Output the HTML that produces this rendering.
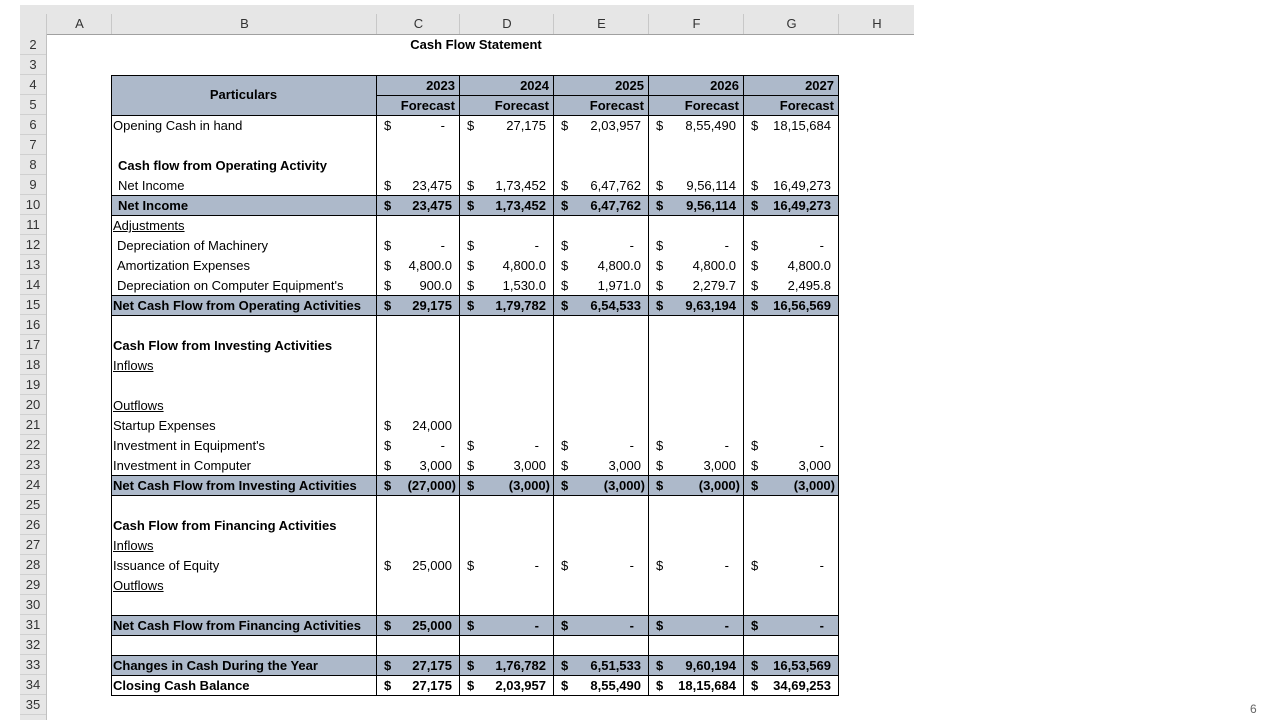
<!DOCTYPE html>
<html><head><meta charset="utf-8">
<style>
body{margin:0;width:1280px;height:720px;background:#fff;position:relative;overflow:hidden;font-family:"Liberation Sans",sans-serif;font-size:13px;color:#000}
.a{position:absolute;white-space:nowrap}
</style></head><body>
<div class="a" style="left:20px;top:5px;width:894px;height:29px;background:#e6e6e6;border-bottom:1px solid #a0a0a0"></div>
<div class="a" style="left:20px;top:34px;width:26px;height:686px;background:#e6e6e6;border-right:1px solid #c0c0c0"></div>
<div class="a" style="left:1250px;top:702px;color:#666;font-size:12px">6</div>
<div id="sheet"></div>
<script>
const colLetters=["A","B","C","D","E","F","G","H"];
const colEdges=[46,111,376,459,553,648,743,838,914];
const years=["2023","2024","2025","2026","2027"];
const rows=[
[6,"Opening Cash in hand",0,false,false,false,["-","27,175","2,03,957","8,55,490","18,15,684"]],
[8,"Cash flow from Operating Activity",5,true,false,false,null],
[9,"Net Income",5,false,false,false,["23,475","1,73,452","6,47,762","9,56,114","16,49,273"]],
[10,"Net Income",5,true,false,true,["23,475","1,73,452","6,47,762","9,56,114","16,49,273"]],
[11,"Adjustments",0,false,true,false,null],
[12,"Depreciation of Machinery",4,false,false,false,["-","-","-","-","-"]],
[13,"Amortization Expenses",4,false,false,false,["4,800.0","4,800.0","4,800.0","4,800.0","4,800.0"]],
[14,"Depreciation on Computer Equipment's",4,false,false,false,["900.0","1,530.0","1,971.0","2,279.7","2,495.8"]],
[15,"Net Cash Flow from Operating Activities",0,true,false,true,["29,175","1,79,782","6,54,533","9,63,194","16,56,569"]],
[17,"Cash Flow from Investing Activities",0,true,false,false,null],
[18,"Inflows",0,false,true,false,null],
[20,"Outflows",0,false,true,false,null],
[21,"Startup Expenses",0,false,false,false,["24,000",null,null,null,null]],
[22,"Investment in Equipment's",0,false,false,false,["-","-","-","-","-"]],
[23,"Investment in Computer",0,false,false,false,["3,000","3,000","3,000","3,000","3,000"]],
[24,"Net Cash Flow from Investing Activities",0,true,false,true,["(27,000)","(3,000)","(3,000)","(3,000)","(3,000)"]],
[26,"Cash Flow from Financing Activities",0,true,false,false,null],
[27,"Inflows",0,false,true,false,null],
[28,"Issuance of Equity",0,false,false,false,["25,000","-","-","-","-"]],
[29,"Outflows",0,false,true,false,null],
[31,"Net Cash Flow from Financing Activities",0,true,false,true,["25,000","-","-","-","-"]],
[33,"Changes in Cash During the Year",0,true,false,true,["27,175","1,76,782","6,51,533","9,60,194","16,53,569"]],
[34,"Closing Cash Balance",0,true,false,false,["27,175","2,03,957","8,55,490","18,15,684","34,69,253"]]
];
const S=document.getElementById('sheet');
const rowTop=r=>35+(r-2)*20;
function div(css,txt){const d=document.createElement('div');d.className='a';d.style.cssText=css;if(txt!=null)d.textContent=txt;S.appendChild(d);return d;}
colLetters.forEach((c,i)=>{
 const d=div(`left:${colEdges[i]}px;top:14px;width:${colEdges[i+1]-colEdges[i]}px;height:20px;line-height:20px;text-align:center;color:#333;border-left:1px solid #c8c8c8`,c);
 
 
});
for(let r=2;r<=35;r++){
 const d=div(`left:20px;top:${rowTop(r)}px;width:26px;height:19px;line-height:20px;text-align:center;color:#333;border-bottom:1px solid #d0d0d0`,String(r));
 
 
}
const t=div(`left:376px;top:${rowTop(2)}px;width:200px;height:20px;line-height:20px;text-align:center;font-weight:bold`,"Cash Flow Statement");


const hb=div(`left:111px;top:75px;width:727px;height:40px;background:#adb9ca`);


const ph=div(`left:111px;top:75px;width:265px;height:40px;line-height:40px;text-align:center;font-weight:bold`,"Particulars");


years.forEach((y,i)=>{
 const l=colEdges[i+2],w=colEdges[i+3]-l;
 const a=div(`left:${l}px;top:75px;width:${w-4}px;height:20px;line-height:21px;text-align:right;font-weight:bold`,y);
 
 
 const b=div(`left:${l}px;top:95px;width:${w-4}px;height:20px;line-height:21px;text-align:right;font-weight:bold`,"Forecast");
 
 
});
rows.forEach(rw=>{if(rw[5]){const h=div(`left:111px;top:${rowTop(rw[0])}px;width:727px;height:20px;background:#adb9ca`);}});
rows.forEach(rw=>{
 const [r,label,ind,bold,ul,hl,vals]=rw;
 const y=rowTop(r);
 const L=div(`left:${113+ind}px;top:${y}px;height:20px;line-height:21px;${bold?'font-weight:bold;':''}${ul?'text-decoration:underline;':''}`,label);
 
 
 if(vals)vals.forEach((v,i)=>{
  if(v==null)return;
  const l=colEdges[i+2],w=colEdges[i+3]-l;
  const fw=bold?'font-weight:bold;':'';
  const d=div(`left:${l+8}px;top:${y}px;height:20px;line-height:21px;${fw}`,"$");
  
  
  const isDash=v==="-",isNeg=v[0]==="(";
  const pr=isDash?14:(isNeg?3:7);
  const c=div(`left:${l}px;top:${y}px;width:${w-pr}px;height:20px;line-height:21px;text-align:right;${fw}`,v);
  
  
 });
});
function line(x,y,w,h,n){const d=div(`left:${x}px;top:${y}px;width:${w}px;height:${h}px;background:#000`);}
[75,115,195,215,295,315,475,495,615,635,655,675,695].forEach(y=>line(111,y,728,1,'h-border'));
line(376,95,463,1,'h-border');
[111,376,459,553,648,743,838].forEach(x=>line(x,75,1,621,'v-border'));
</script>
</body></html>
